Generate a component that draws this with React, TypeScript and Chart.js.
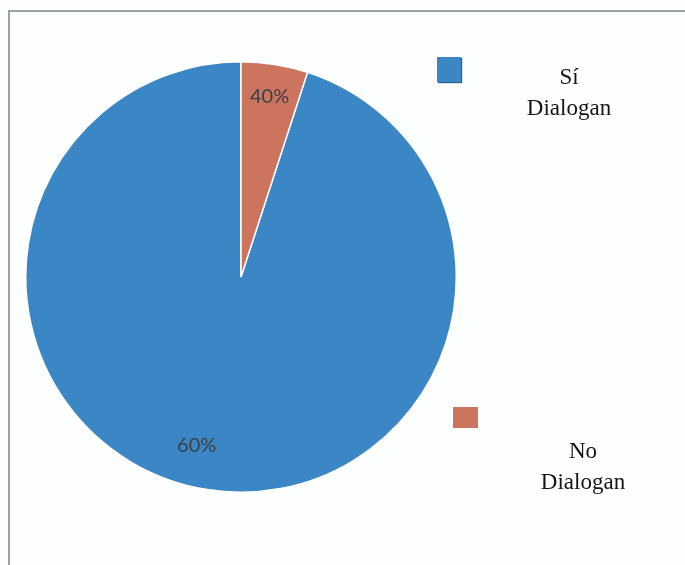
import React, { useEffect, useRef } from "react";
import { Chart, registerables } from "chart.js";

Chart.register(...registerables);

const categories = ["Sí Dialogan", "No Dialogan"];
const values = [95, 5];
const sliceLabels = ["60%", "40%"];
const colors = ["#3b86c4", "#cc745e"];

const labelPlugin = {
  id: "sliceLabels",
  afterDatasetsDraw(chart: any) {
    const ctx = chart.ctx;
    const meta = chart.getDatasetMeta(0);
    ctx.save();
    ctx.font = "20px Lato, 'Open Sans', sans-serif";
    ctx.fillStyle = "#3b4148";
    ctx.textAlign = "center";
    ctx.textBaseline = "middle";
    meta.data.forEach((arc: any, i: number) => {
      const p = arc.getProps(["x", "y", "startAngle", "endAngle", "outerRadius"], true);
      const mid = (p.startAngle + p.endAngle) / 2 + (i === 0 ? 0.1 : 0);
      const r = p.outerRadius * (i === 0 ? 0.81 : 0.85);
      ctx.fillText(sliceLabels[i], p.x + Math.cos(mid) * r, p.y + Math.sin(mid) * r);
    });
    ctx.restore();
  },
};

export default function App() {
  const ref = useRef<HTMLCanvasElement>(null);
  useEffect(() => {
    const total = values.reduce((a, b) => a + b, 0);
    const chart = new Chart(ref.current as HTMLCanvasElement, {
      type: "pie",
      data: {
        labels: categories,
        datasets: [
          {
            data: values,
            backgroundColor: colors,
            borderColor: "#ffffff",
            borderWidth: 1.5,
          },
        ],
      },
      options: {
        responsive: false,
        animation: false,
        rotation: (values[1] / total) * 360,
        layout: { padding: 0 },
        plugins: { legend: { display: false }, tooltip: { enabled: false } },
      },
      plugins: [labelPlugin],
    });
    return () => chart.destroy();
  }, []);

  const legendText: React.CSSProperties = {
    position: "absolute",
    width: 100,
    textAlign: "center",
    fontFamily: "'Liberation Serif', 'Times New Roman', serif",
    fontSize: 23,
    lineHeight: "31px",
    color: "#151515",
  };

  return (
    <div style={{ position: "fixed", left: 0, top: 0, width: 685, height: 565, overflow: "hidden", background: "#fdfefe" }}>
      <div
        style={{
          position: "absolute",
          left: 8,
          top: 10,
          width: 760,
          height: 640,
          borderLeft: "2px solid #9aa3a3",
          borderTop: "2px solid #9aa3a3",
        }}
      />
      <canvas ref={ref} width={432} height={432} style={{ position: "absolute", left: 25, top: 61, width: 432, height: 432 }} />
      <div style={{ position: "absolute", left: 437, top: 57, width: 24, height: 25, background: colors[0], boxShadow: "1px 1px 1px #2a5f8a" }} />
      <div style={{ ...legendText, left: 519, top: 61 }}>{categories[0]}</div>
      <div style={{ position: "absolute", left: 453, top: 407, width: 25, height: 21, background: colors[1] }} />
      <div style={{ ...legendText, left: 533, top: 435 }}>{categories[1]}</div>
    </div>
  );
}
